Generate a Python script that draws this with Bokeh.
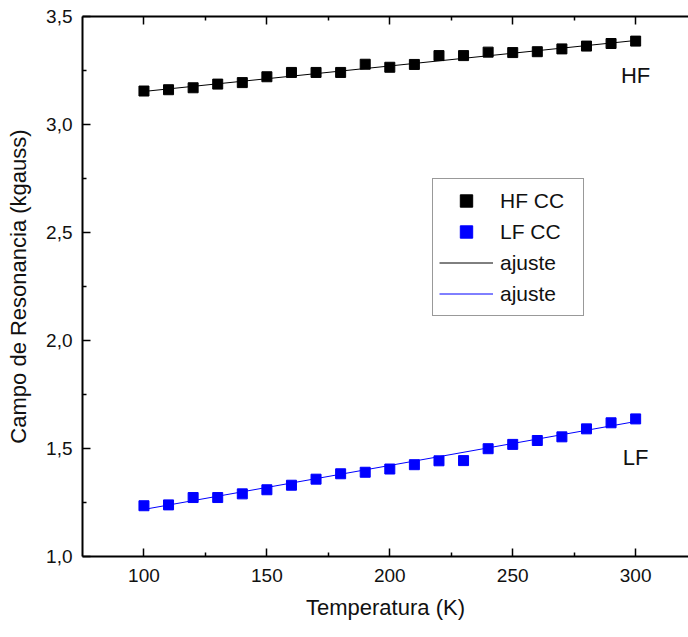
from bokeh.plotting import figure
from bokeh.models import (LinearAxis, FixedTicker, CustomJSTickFormatter, Legend,
                          LegendItem, Label, Range1d)
from bokeh.embed import file_html
from bokeh.resources import INLINE

# ---- data ----
temps = [100, 110, 120, 130, 140, 150, 160, 170, 180, 190, 200,
         210, 220, 230, 240, 250, 260, 270, 280, 290, 300]
hf_cc = [3.155, 3.161, 3.170, 3.187, 3.194, 3.221, 3.241, 3.241, 3.241, 3.279, 3.265,
         3.278, 3.319, 3.319, 3.335, 3.333, 3.337, 3.350, 3.363, 3.375, 3.386]
lf_cc = [1.235, 1.239, 1.273, 1.273, 1.290, 1.309, 1.330, 1.358, 1.383, 1.390, 1.405,
         1.425, 1.443, 1.444, 1.499, 1.519, 1.537, 1.554, 1.591, 1.619, 1.637]
fit_t = [100, 300]
hf_fit = [3.153, 3.389]
lf_fit = [1.218, 1.625]
x_ticks = [100, 150, 200, 250, 300]
x_minor = [125, 175, 225, 275]
y_ticks = [1.0, 1.5, 2.0, 2.5, 3.0, 3.5]
y_minor = [1.25, 1.75, 2.25, 2.75, 3.25]

FONT = "Liberation Sans"
BLUE = "#0000ff"

p = figure(width=688, height=637, x_range=Range1d(75, 321.5), y_range=Range1d(1.0, 3.5),
           output_backend="svg", toolbar_location=None,
           min_border_left=82, min_border_right=0, min_border_top=16, min_border_bottom=81,
           outline_line_color=None, background_fill_color="white",
           x_axis_label="Temperatura (K)", y_axis_label="Campo de Resonancia (kgauss)")
p.grid.visible = False

fmt = CustomJSTickFormatter(code="return tick.toFixed(1).replace('.', ',');")
blank = CustomJSTickFormatter(code="return '';")


def style_axis(ax):
    ax.axis_line_width = 2
    ax.axis_line_color = "black"
    ax.major_tick_in = 8
    ax.major_tick_out = 0
    ax.minor_tick_in = 4
    ax.minor_tick_out = 0
    ax.major_tick_line_width = 1.5
    ax.minor_tick_line_width = 1.5
    ax.major_tick_line_color = "black"
    ax.minor_tick_line_color = "black"
    ax.major_label_text_font = FONT
    ax.major_label_text_font_size = "19px"
    ax.major_label_text_color = "#111111"
    ax.axis_label_text_font = FONT
    ax.axis_label_text_font_size = "22px"
    ax.axis_label_text_font_style = "normal"
    ax.axis_label_text_color = "#111111"


xa = p.xaxis[0]
xa.ticker = FixedTicker(ticks=x_ticks, minor_ticks=x_minor)
style_axis(xa)
xa.major_label_standoff = 12
xa.axis_label_standoff = 10

ya = p.yaxis[0]
ya.ticker = FixedTicker(ticks=y_ticks, minor_ticks=y_minor)
ya.formatter = fmt
style_axis(ya)
ya.major_label_standoff = 10
ya.axis_label_standoff = 12

top = LinearAxis(ticker=FixedTicker(ticks=x_ticks, minor_ticks=x_minor), formatter=blank)
style_axis(top)
top.major_label_text_font_size = "1px"
top.major_label_standoff = 0
p.add_layout(top, "above")

hf_line = p.line(fit_t, hf_fit, line_color="black", line_width=1)
lf_line = p.line(fit_t, lf_fit, line_color=BLUE, line_width=1)
hf_r = p.scatter(temps, hf_cc, marker="square", size=10, fill_color="black", line_color="black")
lf_r = p.scatter(temps, lf_cc, marker="square", size=10, fill_color=BLUE, line_color=BLUE)

legend = Legend(items=[LegendItem(label="HF CC", renderers=[hf_r]),
                       LegendItem(label="LF CC", renderers=[lf_r]),
                       LegendItem(label="ajuste", renderers=[hf_line]),
                       LegendItem(label="ajuste", renderers=[lf_line])],
                location=(350, 240), margin=0, padding=6, spacing=0,
                glyph_width=54, glyph_height=31, label_height=31, label_width=77,
                label_standoff=7, label_text_font=FONT, label_text_font_size="21px",
                label_text_color="#111111",
                border_line_color="#333333", border_line_width=1,
                background_fill_color="white", background_fill_alpha=1.0)
p.add_layout(legend, "center")

p.add_layout(Label(x=300, y=3.227, text="HF", text_align="center", text_baseline="middle",
                   text_font=FONT, text_font_size="22px", text_color="#111111"))
p.add_layout(Label(x=300, y=1.458, text="LF", text_align="center", text_baseline="middle",
                   text_font=FONT, text_font_size="22px", text_color="#111111"))

open("out.html", "w").write(file_html(p, INLINE))
